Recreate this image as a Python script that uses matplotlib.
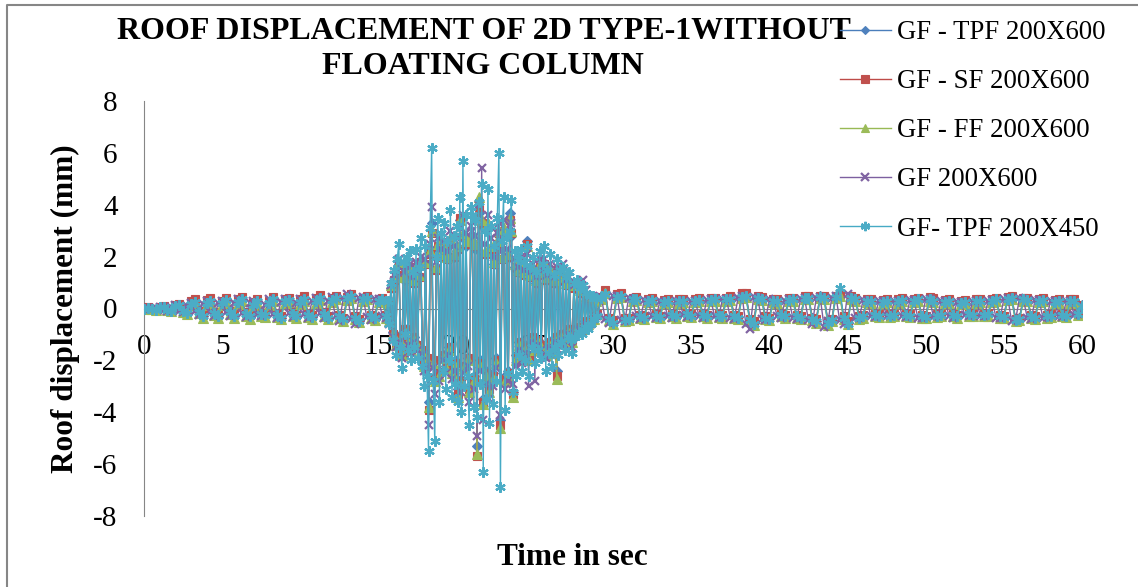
import numpy as np
import matplotlib
matplotlib.use('Agg')
import matplotlib.pyplot as plt
from matplotlib.lines import Line2D

# Time axis is sampled in three parts: quiet start, strong shaking, quiet end (sec)
SEG_A = (0.0, 15.5)
SEG_B = (15.6, 29.0)
SEG_C = (29.25, 60.0)

X_TICKS = list(range(0, 61, 5))
Y_TICKS = list(range(-8, 9, 2))

NAMES = ['GF - TPF 200X600', 'GF - SF 200X600', 'GF - FF 200X600',
         'GF 200X600', 'GF- TPF 200X450']

# ---- GF - TPF 200X600 (roof displacement, mm)
tpf600_a = [0.00, 0.03, -0.02, -0.04, 0.05, 0.07, -0.05, -0.08,
            0.11, 0.14, -0.10, -0.16, 0.20, 0.30, -0.13, -0.28,
            0.24, 0.32, -0.18, -0.31, 0.22, 0.33, -0.16, -0.30,
            0.27, 0.36, -0.21, -0.32, 0.18, 0.30, -0.24, -0.27,
            0.22, 0.36, -0.26, -0.35, 0.29, 0.33, -0.22, -0.31,
            0.27, 0.40, -0.26, -0.33, 0.31, 0.42, -0.22, -0.35,
            0.33, 0.43, -0.31, -0.41, 0.39, 0.49, -0.35, -0.47,
            0.34, 0.41, -0.31, -0.39, 0.30, 0.35, -0.30]
tpf600_b = [0.2, -0.5, 0.8, -0.9, 1.1, -1.3, 1.2, 1.7, -1.1, -1.6,
            1.1, -0.8, 1.4, -1.2, 1.4, -1.5, 1.0, -1.1, 1.5, -1.4,
            1.2, 1.7, -1.6, -2.0, 1.7, -1.9, -3.6, 2.2, 3.3, -2.0,
            -2.6, 1.5, 2.3, -2.4, 2.0, -1.8, 2.2, -2.2, 1.9, -1.5,
            2.5, -2.3, 2.0, -2.0, 2.2, -3.1, 3.4, -2.7, 2.7, -2.2,
            2.4, -1.9, -3.0, 2.6, 2.4, -2.6, 2.3, -5.3, 3.7, -2.0,
            3.2, -3.5, 2.1, -2.4, 3.1, -3.0, 2.2, -2.5, 1.7, -1.9,
            2.4, 2.8, -4.3, 1.9, 2.9, -2.6, 2.0, -2.4, 3.7, 2.8,
            -3.2, 1.6, -1.8, 1.4, -1.3, 1.6, -1.7, 1.3, -1.4, 2.6,
            -1.8, 1.2, -1.1, 1.4, -1.5, 1.0, -1.2, 1.5, -1.4, 1.3,
            1.6, -1.6, 1.1, -1.3, 1.4, -1.5, 1.0, -1.1, -2.4, 1.3,
            1.1, -1.0, 1.2, -1.1, 0.9, -0.8, 1.0, -0.9, -1.2, 0.8,
            -0.8, 0.8, -0.7, 0.6, -0.7, 0.6, -0.5, 0.5, -0.5, 0.4,
            -0.4, 0.4, -0.3, 0.3, -0.2]
tpf600_c = [0.42, 0.62, -0.40, -0.52, 0.48, 0.52, -0.42, -0.40,
            0.37, 0.40, -0.28, -0.33, 0.32, 0.34, -0.26, -0.30,
            0.27, 0.32, -0.23, -0.28, 0.30, 0.32, -0.21, -0.26,
            0.32, 0.34, -0.23, -0.28, 0.34, 0.37, -0.26, -0.28,
            0.37, 0.41, -0.28, -0.33, 0.52, 0.53, -0.43, -0.56,
            0.43, 0.40, -0.32, -0.38, 0.33, 0.30, -0.23, -0.28,
            0.35, 0.37, -0.28, -0.33, 0.43, 0.45, -0.38, -0.47,
            0.47, 0.43, -0.54, -0.43, 0.47, 0.60, -0.33, -0.55,
            0.43, 0.37, -0.32, -0.28, 0.33, 0.30, -0.23, -0.26,
            0.27, 0.33, -0.26, -0.23, 0.30, 0.35, -0.23, -0.26,
            0.33, 0.37, -0.28, -0.30, 0.38, 0.33, -0.26, -0.23,
            0.27, 0.30, -0.23, -0.28, 0.25, 0.27, -0.20, -0.23,
            0.30, 0.33, -0.23, -0.20, 0.33, 0.37, -0.28, -0.30,
            0.40, 0.43, -0.43, -0.38, 0.37, 0.35, -0.28, -0.33,
            0.33, 0.35, -0.28, -0.26, 0.27, 0.30, -0.23, -0.26,
            0.30, 0.33, -0.18, 0.12]

# ---- GF - SF 200X600
sf600_a = [0.00, 0.04, -0.01, -0.03, 0.06, 0.08, -0.03, -0.06,
           0.14, 0.18, -0.06, -0.12, 0.28, 0.38, -0.08, -0.22,
           0.32, 0.40, -0.12, -0.25, 0.30, 0.42, -0.10, -0.22,
           0.35, 0.45, -0.15, -0.25, 0.25, 0.38, -0.18, -0.20,
           0.30, 0.45, -0.20, -0.28, 0.38, 0.42, -0.15, -0.25,
           0.35, 0.50, -0.20, -0.26, 0.40, 0.52, -0.15, -0.28,
           0.40, 0.50, -0.25, -0.35, 0.45, 0.55, -0.30, -0.42,
           0.40, 0.48, -0.25, -0.32, 0.35, 0.40, -0.25]
sf600_b = [0.2, -0.5, 0.8, -1.0, 1.1, -1.4, 1.3, 1.7, -1.1, -1.7,
           1.2, -0.8, 1.4, -1.2, 1.5, -1.5, 1.0, -1.1, 1.6, -1.4,
           1.2, 1.8, -1.6, -2.1, 1.7, -1.9, -3.9, 2.1, 2.9, -2.0,
           -2.7, 1.5, 2.4, -2.5, 2.0, -1.8, 2.3, -2.2, 1.9, -1.5,
           2.6, -2.4, 2.0, -2.1, 2.3, -3.3, 3.5, -2.8, 2.8, -2.2,
           2.5, -1.9, -3.1, 2.7, 2.5, -2.7, 2.4, -5.7, 3.9, -2.1,
           3.3, -3.6, 2.1, -2.5, 3.2, -3.1, 2.3, -2.6, 1.7, -2.0,
           2.5, 2.9, -4.5, 1.9, 3.0, -2.7, 2.0, -2.5, 3.4, 2.9,
           -3.3, 1.6, -1.9, 1.4, -1.3, 1.7, -1.7, 1.3, -1.5, 2.5,
           -1.9, 1.2, -1.1, 1.5, -1.5, 1.0, -1.2, 1.6, -1.4, 1.3,
           1.7, -1.7, 1.1, -1.3, 1.5, -1.6, 1.0, -1.1, -2.6, 1.4,
           1.1, -1.0, 1.2, -1.2, 0.9, -0.8, 1.0, -0.9, -1.2, 0.8,
           -0.8, 0.8, -0.7, 0.6, -0.7, 0.7, -0.5, 0.5, -0.6, 0.4,
           -0.5, 0.4, -0.3, 0.3, -0.2]
sf600_c = [0.45, 0.70, -0.35, -0.45, 0.55, 0.60, -0.38, -0.35,
           0.42, 0.45, -0.25, -0.30, 0.38, 0.40, -0.22, -0.28,
           0.32, 0.38, -0.20, -0.25, 0.35, 0.38, -0.18, -0.22,
           0.38, 0.40, -0.20, -0.25, 0.40, 0.42, -0.22, -0.25,
           0.42, 0.48, -0.25, -0.30, 0.60, 0.58, -0.40, -0.50,
           0.48, 0.45, -0.28, -0.35, 0.38, 0.35, -0.20, -0.25,
           0.40, 0.42, -0.25, -0.30, 0.48, 0.50, -0.35, -0.42,
           0.50, 0.48, -0.50, -0.40, 0.50, 0.55, -0.30, -0.50,
           0.48, 0.42, -0.28, -0.25, 0.38, 0.35, -0.20, -0.22,
           0.32, 0.38, -0.22, -0.20, 0.35, 0.40, -0.20, -0.22,
           0.38, 0.42, -0.25, -0.28, 0.45, 0.40, -0.22, -0.20,
           0.32, 0.35, -0.20, -0.25, 0.30, 0.32, -0.18, -0.20,
           0.35, 0.38, -0.20, -0.18, 0.38, 0.42, -0.25, -0.28,
           0.45, 0.48, -0.40, -0.35, 0.42, 0.40, -0.25, -0.30,
           0.38, 0.40, -0.25, -0.22, 0.32, 0.35, -0.20, -0.22,
           0.35, 0.38, -0.15, 0.15]

# ---- GF - FF 200X600
ff600_a = [0.00, 0.02, -0.03, -0.05, 0.04, 0.05, -0.07, -0.10,
           0.08, 0.10, -0.14, -0.20, 0.12, 0.20, -0.18, -0.35,
           0.15, 0.24, -0.25, -0.38, 0.14, 0.25, -0.22, -0.38,
           0.18, 0.28, -0.28, -0.40, 0.10, 0.22, -0.30, -0.33,
           0.14, 0.28, -0.32, -0.42, 0.20, 0.25, -0.28, -0.38,
           0.18, 0.30, -0.32, -0.40, 0.22, 0.32, -0.28, -0.42,
           0.25, 0.35, -0.38, -0.48, 0.32, 0.42, -0.40, -0.52,
           0.28, 0.35, -0.36, -0.45, 0.25, 0.30, -0.35]
ff600_b = [0.2, -0.5, 0.9, -1.0, 1.2, -1.4, 1.3, 1.8, -1.2, -1.8,
           1.2, -0.9, 1.5, -1.3, 1.5, -1.6, 1.1, -1.2, 1.6, -1.5,
           1.3, 1.9, -1.7, -2.2, 1.8, -2.0, -3.8, 2.2, 3.0, -2.1,
           -2.8, 1.6, 2.5, -2.6, 2.1, -1.9, 2.4, -2.3, 2.0, -1.6,
           2.7, -2.5, 2.1, -2.2, 2.4, -3.4, 3.4, -2.9, 2.9, -2.3,
           2.6, -2.0, -3.2, 2.8, 2.6, -2.8, 2.5, -5.6, 4.3, -2.2,
           3.4, -3.7, 2.2, -2.6, 3.3, -3.2, 2.4, -2.7, 1.8, -2.1,
           2.6, 3.0, -4.6, 2.0, 3.1, -2.8, 2.1, -2.6, 3.5, 3.0,
           -3.4, 1.7, -2.0, 1.5, -1.4, 1.8, -1.8, 1.4, -1.6, 2.4,
           -2.0, 1.3, -1.2, 1.6, -1.6, 1.1, -1.3, 1.7, -1.5, 1.4,
           1.8, -1.8, 1.2, -1.4, 1.6, -1.7, 1.1, -1.2, -2.7, 1.5,
           1.2, -1.1, 1.3, -1.3, 1.0, -0.9, 1.1, -1.0, -1.3, 0.9,
           -0.9, 0.9, -0.8, 0.7, -0.8, 0.7, -0.6, 0.5, -0.6, 0.5,
           -0.5, 0.4, -0.4, 0.3, -0.2]
ff600_c = [0.35, 0.60, -0.45, -0.60, 0.40, 0.45, -0.50, -0.45,
           0.30, 0.32, -0.35, -0.40, 0.25, 0.28, -0.32, -0.38,
           0.20, 0.25, -0.30, -0.35, 0.22, 0.25, -0.28, -0.32,
           0.25, 0.28, -0.30, -0.35, 0.28, 0.30, -0.32, -0.35,
           0.30, 0.32, -0.35, -0.40, 0.40, 0.45, -0.50, -0.65,
           0.35, 0.32, -0.40, -0.45, 0.25, 0.22, -0.30, -0.35,
           0.28, 0.30, -0.35, -0.40, 0.35, 0.38, -0.45, -0.55,
           0.40, 0.35, -0.62, -0.50, 0.40, 0.50, -0.40, -0.58,
           0.35, 0.30, -0.40, -0.35, 0.25, 0.22, -0.30, -0.32,
           0.20, 0.25, -0.32, -0.30, 0.22, 0.28, -0.30, -0.32,
           0.25, 0.30, -0.35, -0.38, 0.30, 0.25, -0.32, -0.30,
           0.20, 0.22, -0.30, -0.35, 0.18, 0.20, -0.28, -0.30,
           0.22, 0.25, -0.30, -0.28, 0.25, 0.30, -0.35, -0.38,
           0.32, 0.35, -0.50, -0.45, 0.30, 0.28, -0.35, -0.40,
           0.25, 0.28, -0.35, -0.32, 0.20, 0.22, -0.30, -0.32,
           0.22, 0.25, -0.25, 0.08]

# ---- GF 200X600
gf600_a = [0.00, 0.02, -0.03, 0.02, 0.06, -0.04, -0.08, 0.05,
           0.12, -0.08, -0.15, 0.10, 0.22, -0.10, -0.25, 0.18,
           0.28, -0.15, -0.30, 0.20, 0.30, -0.12, -0.28, 0.22,
           0.35, -0.18, -0.32, 0.20, 0.30, -0.20, -0.28, 0.15,
           0.35, -0.22, -0.38, 0.25, 0.35, -0.18, -0.33, 0.22,
           0.38, -0.22, -0.35, 0.28, 0.40, -0.18, -0.38, 0.30,
           0.45, -0.30, -0.50, 0.40, 0.55, -0.40, -0.60, 0.42,
           0.45, -0.32, -0.45, 0.35, 0.35, -0.30, -0.35]
gf600_b = [0.3, -0.6, 0.9, -1.1, 1.3, -1.5, 1.4, 1.9, -1.3, -1.9,
           1.4, -1.0, 1.6, -1.4, 1.7, -1.7, 1.2, -1.3, 1.8, -1.6,
           1.4, 2.0, -1.8, -2.4, 1.9, -2.2, -4.5, 2.5, 3.9, -2.3,
           -3.3, 1.8, 2.7, -2.8, 2.3, -2.0, 2.6, -2.5, 2.2, -1.8,
           3.0, -2.7, 2.4, -2.4, 2.7, -3.0, 3.1, -3.2, 3.6, -2.5,
           2.9, -2.2, -3.6, 3.2, 3.0, -3.1, 2.8, -4.9, 4.0, -2.4,
           5.4, -4.3, 2.5, -2.9, 3.6, -3.5, 2.7, -3.0, 2.0, -2.3,
           2.9, 3.3, -4.1, 2.2, 3.4, -3.1, 2.3, -2.8, 3.2, 3.3,
           -2.9, 1.9, -2.2, 1.6, -1.6, 2.0, -2.1, 1.5, -1.7, 2.1,
           -3.0, 1.4, -1.3, 1.7, -2.8, 1.2, -1.4, 1.9, -1.6, 1.5,
           1.9, -1.9, 1.3, -1.5, 1.7, -1.8, 1.2, -1.3, 1.6, -1.6,
           1.4, -1.2, 1.7, -1.4, 1.1, -1.0, 1.2, -1.1, -1.5, 0.9,
           -1.0, 1.0, -0.8, 0.9, -0.9, 1.1, -0.6, 0.7, -0.7, 0.5,
           -0.6, 0.5, -0.4, 0.4, -0.3]
gf600_c = [0.45, -0.40, -0.55, 0.50, 0.50, -0.45, -0.50, 0.40,
           0.35, -0.30, -0.40, 0.32, 0.30, -0.30, -0.35, 0.28,
           0.25, -0.28, -0.35, 0.30, 0.28, -0.25, -0.32, 0.30,
           0.30, -0.28, -0.35, 0.32, 0.35, -0.30, -0.35, 0.35,
           0.38, -0.35, -0.40, 0.40, 0.50, -0.60, -0.80, 0.45,
           0.40, -0.40, -0.45, 0.35, 0.30, -0.30, -0.35, 0.28,
           0.35, -0.35, -0.40, 0.35, 0.42, -0.45, -0.60, 0.40,
           0.45, -0.70, -0.50, 0.42, 0.50, -0.45, -0.60, 0.55,
           0.40, -0.38, -0.35, 0.32, 0.30, -0.30, -0.32, 0.28,
           0.28, -0.30, -0.30, 0.30, 0.30, -0.28, -0.32, 0.32,
           0.32, -0.35, -0.38, 0.35, 0.35, -0.32, -0.30, 0.30,
           0.28, -0.30, -0.35, 0.25, 0.25, -0.25, -0.30, 0.25,
           0.30, -0.30, -0.28, 0.28, 0.32, -0.35, -0.38, 0.35,
           0.42, -0.50, -0.45, 0.40, 0.35, -0.35, -0.40, 0.32,
           0.32, -0.35, -0.32, 0.30, 0.28, -0.30, -0.32, 0.28,
           0.30, -0.25, -0.20, 0.10]

# ---- GF- TPF 200X450
tpf450_a = [0.00, 0.03, -0.02, -0.04, 0.05, 0.06, -0.05, -0.08,
            0.10, 0.14, -0.10, -0.16, 0.18, 0.26, -0.12, -0.28,
            0.22, 0.30, -0.18, -0.30, 0.20, 0.32, -0.15, -0.28,
            0.25, 0.35, -0.20, -0.30, 0.15, 0.28, -0.22, -0.25,
            0.20, 0.35, -0.25, -0.35, 0.28, 0.32, -0.20, -0.30,
            0.25, 0.38, -0.25, -0.32, 0.30, 0.40, -0.20, -0.35,
            0.32, 0.42, -0.30, -0.42, 0.40, 0.50, -0.35, -0.48,
            0.35, 0.42, -0.30, -0.38, 0.30, 0.35, -0.30]
tpf450_b = [0.3, -0.6, 1.0, -1.2, 1.5, -1.8, 1.9, 2.5, -1.5, -2.3,
            1.8, -1.0, 2.0, -1.6, 2.2, -2.0, 1.4, -1.5, 2.3, -1.9,
            1.6, 2.7, -2.2, -3.0, 2.4, -2.6, -5.5, 3.1, 6.2, -2.8,
            -5.1, 2.0, 3.5, -3.6, 2.9, -2.4, 3.3, -3.1, 2.6, -2.0,
            3.8, -3.4, 2.8, -2.9, 3.2, -3.6, 4.3, -4.0, 5.7, -3.0,
            3.6, -2.6, -4.5, 3.9, 3.6, -3.8, 3.4, -4.2, 4.1, -2.9,
            4.8, -6.3, 3.0, -3.5, 4.6, -4.4, 3.2, -3.7, 2.4, -2.8,
            3.5, 6.0, -6.9, 2.6, 4.3, -3.9, 2.8, -2.5, 3.0, 4.2,
            -3.2, 2.2, -2.6, 1.9, -1.8, 2.3, -2.4, 1.8, -2.0, 2.4,
            -2.6, 1.6, -1.5, 2.0, -2.1, 1.4, -1.6, 2.2, -1.9, 1.7,
            2.4, -2.4, 1.5, -1.7, 2.1, -2.2, 1.3, -1.5, 1.9, -1.8,
            1.5, -1.3, 1.6, -1.6, 1.2, -1.1, 1.4, -1.2, -1.7, 1.0,
            -1.1, 1.1, -0.9, 0.8, -1.0, 0.9, -0.7, 0.6, -0.8, 0.5,
            -0.6, 0.5, -0.4, 0.4, -0.3]
tpf450_c = [0.40, 0.55, -0.40, -0.55, 0.45, 0.50, -0.45, -0.40,
            0.35, 0.38, -0.30, -0.35, 0.30, 0.32, -0.28, -0.32,
            0.25, 0.30, -0.25, -0.30, 0.28, 0.30, -0.22, -0.28,
            0.30, 0.32, -0.25, -0.30, 0.32, 0.35, -0.28, -0.30,
            0.35, 0.38, -0.30, -0.35, 0.45, 0.50, -0.45, -0.60,
            0.40, 0.38, -0.35, -0.40, 0.30, 0.28, -0.25, -0.30,
            0.32, 0.35, -0.30, -0.35, 0.40, 0.42, -0.40, -0.50,
            0.45, 0.40, -0.55, -0.45, 0.45, 0.80, -0.35, -0.60,
            0.40, 0.35, -0.35, -0.30, 0.30, 0.28, -0.25, -0.28,
            0.25, 0.30, -0.28, -0.25, 0.28, 0.32, -0.25, -0.28,
            0.30, 0.35, -0.30, -0.32, 0.35, 0.30, -0.28, -0.25,
            0.25, 0.28, -0.25, -0.30, 0.22, 0.25, -0.22, -0.25,
            0.28, 0.30, -0.25, -0.22, 0.30, 0.35, -0.30, -0.32,
            0.38, 0.40, -0.45, -0.40, 0.35, 0.32, -0.30, -0.35,
            0.30, 0.32, -0.30, -0.28, 0.25, 0.28, -0.25, -0.28,
            0.28, 0.30, -0.20, 0.10]

SERIES = [
    (tpf600_a, tpf600_b, tpf600_c),
    (sf600_a, sf600_b, sf600_c),
    (ff600_a, ff600_b, ff600_c),
    (gf600_a, gf600_b, gf600_c),
    (tpf450_a, tpf450_b, tpf450_c),
]


def _time_axis(a, b, c):
    return np.concatenate([np.linspace(SEG_A[0], SEG_A[1], len(a)),
                           np.linspace(SEG_B[0], SEG_B[1], len(b)),
                           np.linspace(SEG_C[0], SEG_C[1], len(c))])


def _main():
    W, H = 1138, 587
    plt.rcParams['font.family'] = ['Liberation Serif', 'DejaVu Serif']
    plt.rcParams['axes.unicode_minus'] = False
    fig = plt.figure(figsize=(W / 100, H / 100), dpi=100)

    # plot area in pixels: x 144..1082, y 101..516
    ax = fig.add_axes([144 / W, (H - 516) / H, 938 / W, 415 / H])
    ax.set_xlim(0, 60)
    ax.set_ylim(-8, 8)

    # Excel 2007 style series (line colour, marker colour, marker, size)
    styles = [
        ('#4A7EBB', '#4F81BD', 'D', 5.0),
        ('#BE4B48', '#C0504D', 's', 6.0),
        ('#98B954', '#9BBB59', '^', 6.5),
        ('#7D60A0', '#8064A2', 'x', 6.0),
        ('#46AAC5', '#4BACC6', (6, 2, 0), 7.5),
    ]
    handles = []
    for i, (parts, name) in enumerate(zip(SERIES, NAMES)):
        lc, mc, mk, ms = styles[i]
        t = _time_axis(*parts)
        y = np.concatenate([np.asarray(p, dtype=float) for p in parts])
        ln, = ax.plot(t, y, color=lc, lw=1.0, marker=mk, ms=ms,
                      mfc=mc, mec=mc, mew=1.6 if i >= 3 else 0.8,
                      zorder=3 + i, label=name)
        handles.append(ln)

    gray = '#868686'
    for s in ['top', 'right']:
        ax.spines[s].set_visible(False)
    ax.spines['left'].set_color(gray)
    ax.spines['bottom'].set_color(gray)
    ax.spines['bottom'].set_position(('data', 0))
    ax.spines['left'].set_zorder(2)
    ax.spines['bottom'].set_zorder(2)

    ax.set_xticks(X_TICKS)
    ax.set_yticks(Y_TICKS)
    ax.tick_params(axis='x', length=0, pad=18, labelsize=21)
    ax.tick_params(axis='y', length=0, pad=19, labelsize=21)

    # titles
    fig.text(484 / W, 1 - 39 / H, 'ROOF DISPLACEMENT OF 2D TYPE-1WITHOUT',
             ha='center', va='baseline', fontsize=23, fontweight='bold')
    fig.text(483 / W, 1 - 74 / H, 'FLOATING COLUMN',
             ha='center', va='baseline', fontsize=23, fontweight='bold')
    fig.text(65 / W, 1 - 309 / H, 'Roof displacement (mm)', rotation=90,
             ha='center', va='center', fontsize=22.5, fontweight='bold')
    fig.text(572 / W, 1 - 565 / H, 'Time in sec', ha='center',
             va='baseline', fontsize=22.5, fontweight='bold')

    leg = fig.legend(handles=handles, loc='upper left',
                     bbox_to_anchor=(840 / W, 1 - 20 / H), frameon=False,
                     fontsize=19.3, borderpad=0, borderaxespad=0,
                     handlelength=1.9, handletextpad=0.22, labelspacing=0.9)
    for lh in leg.legend_handles:
        lh.set_markersize(lh.get_markersize() * 0.9)

    # chart border (cut off at right and bottom)
    fig.add_artist(Line2D([7 / W, 7 / W, 1.05], [-0.05, 1 - 5 / H, 1 - 5 / H],
                          transform=fig.transFigure, color=gray, lw=1.5))

    fig.savefig('out.png', dpi=100)


if __name__ == '__main__':
    _main()
